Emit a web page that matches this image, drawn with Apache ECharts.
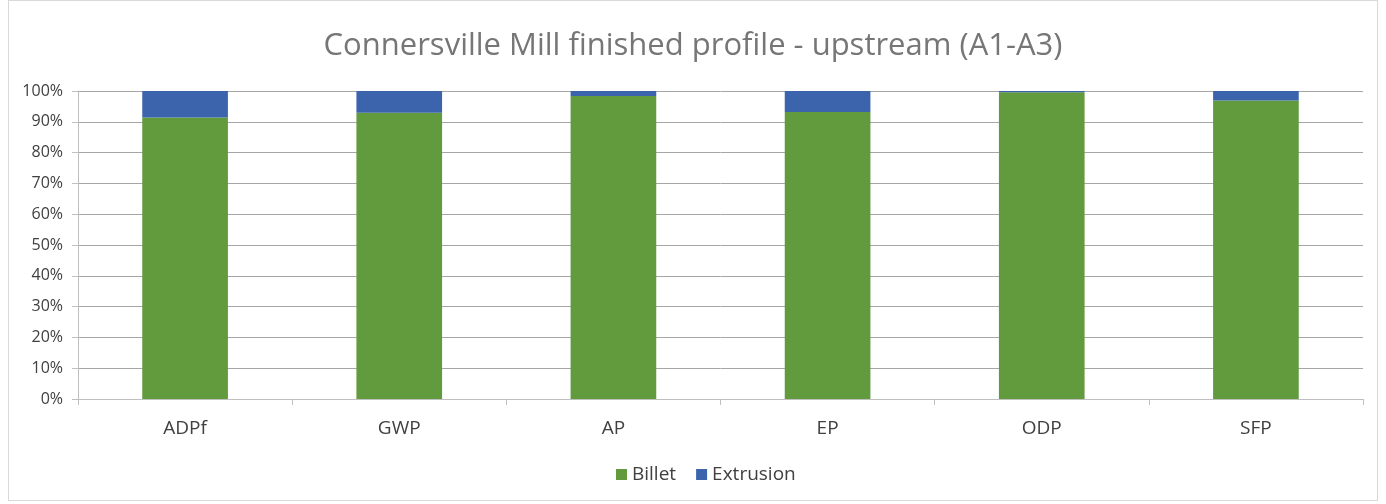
<!DOCTYPE html>
<html><head><meta charset="utf-8">
<script src="https://cdn.jsdelivr.net/npm/echarts@6/dist/echarts.min.js"></script>
<style>html,body{margin:0;padding:0;background:#fff}
#wrap{position:absolute;left:8px;top:0;width:1370px;height:501px;border:1px solid #d9d9d9;box-sizing:border-box}
#c{position:absolute;left:0;top:0;width:1386px;height:504px}</style>
</head><body><div id="wrap"></div><div id="c"></div>
<script>
const categories = ['ADPf','GWP','AP','EP','ODP','SFP'];
const billet = [91.4, 92.9, 98.4, 93.2, 99.6, 96.9];
const extrusion = [8.6, 7.1, 1.6, 6.8, 0.4, 3.1];
const yTicks = [0,10,20,30,40,50,60,70,80,90,100];
const font = '"Open Sans", sans-serif';
const chart = echarts.init(document.getElementById('c'));
chart.setOption({
  animation:false,
  title:{text:'Connersville Mill finished profile - upstream (A1-A3)',left:'center',top:26,
    textStyle:{fontFamily:font,fontSize:31,fontWeight:'normal',color:'#767676'}},
  legend:{bottom:15,left:611,itemWidth:11,itemHeight:11,itemGap:20,icon:'rect',
    textStyle:{fontFamily:font,fontSize:19,color:'#404040'},data:['Billet','Extrusion']},
  grid:{left:78,right:23,top:91,bottom:105,containLabel:false},
  xAxis:{type:'category',data:categories,
    axisLine:{lineStyle:{color:'#bfbfbf'}},
    axisTick:{show:true,length:6,lineStyle:{color:'#bfbfbf'}},
    axisLabel:{fontFamily:font,fontSize:19,color:'#404040',margin:20}},
  yAxis:{type:'value',min:0,max:100,interval:10,
    axisLine:{show:true,lineStyle:{color:'#bfbfbf'}},
    axisTick:{show:true,length:6,lineStyle:{color:'#bfbfbf'}},
    splitLine:{lineStyle:{color:'#a6a6a6'}},
    axisLabel:{fontFamily:font,fontSize:16,color:'#404040',margin:15,
      formatter:v=>yTicks.includes(v)?v+'%':''}},
  series:[
    {name:'Billet',type:'bar',stack:'a',data:billet,barWidth:'40%',itemStyle:{color:'#629A3E'}},
    {name:'Extrusion',type:'bar',stack:'a',data:extrusion,barWidth:'40%',itemStyle:{color:'#3B64AD'}}
  ]
});
</script></body></html>
